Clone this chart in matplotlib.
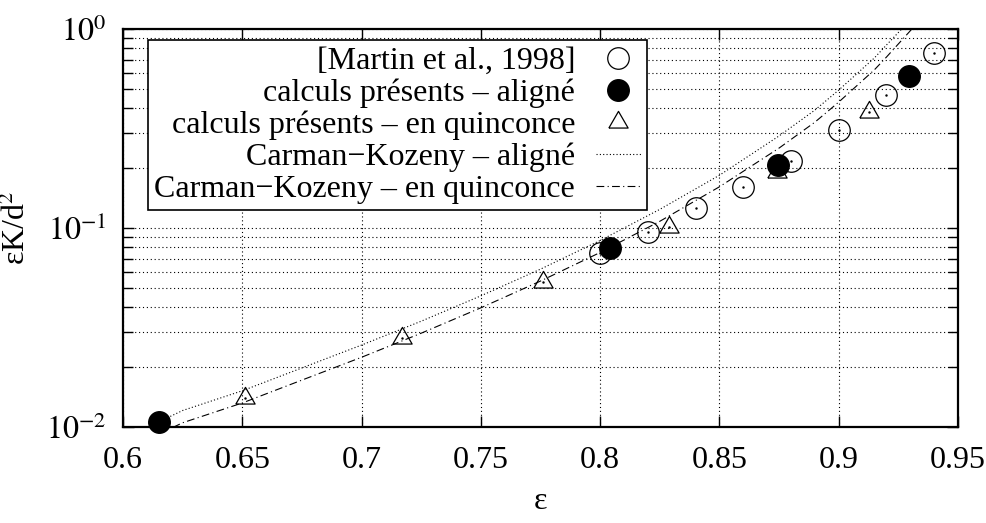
import numpy as np
import matplotlib.pyplot as plt
from matplotlib.ticker import LogLocator, NullFormatter, FixedLocator

plt.rcParams['font.family'] = ['Liberation Serif', 'DejaVu Serif']
plt.rcParams['mathtext.fontset'] = 'stix'

# Martin et al., 1998
eps_martin = [0.80, 0.82, 0.84, 0.86, 0.88, 0.90, 0.92, 0.94]
k_martin = [0.0749, 0.0955, 0.126, 0.161, 0.217, 0.311, 0.466, 0.757]

# present computations - aligned
eps_align = [0.615, 0.804, 0.8745, 0.9294]
k_align = [0.0106, 0.0793, 0.207, 0.580]

# present computations - staggered
eps_stag = [0.651, 0.717, 0.776, 0.8288, 0.874, 0.9127]
k_stag = [0.0140, 0.0280, 0.0535, 0.101, 0.191, 0.383]

# Carman-Kozeny curves
eps_ck_align = [0.600, 0.615, 0.625, 0.650, 0.675, 0.700, 0.725, 0.750, 0.775, 0.800,
                0.825, 0.850, 0.875, 0.890, 0.900, 0.915, 0.920, 0.930]
k_ck_align = [0.0085, 0.0106, 0.0121, 0.0152, 0.0198, 0.0258, 0.0340, 0.0456, 0.0621,
              0.0865, 0.124, 0.184, 0.290, 0.391, 0.493, 0.716, 0.830, 1.11]
eps_ck_stag = [0.615, 0.625, 0.650, 0.675, 0.700, 0.725, 0.750, 0.775, 0.800, 0.825,
               0.850, 0.875, 0.890, 0.900, 0.915, 0.920, 0.935]
k_ck_stag = [0.0092, 0.0105, 0.0132, 0.0172, 0.0224, 0.0296, 0.0397, 0.0541, 0.0753,
             0.108, 0.161, 0.252, 0.340, 0.429, 0.624, 0.722, 1.14]

fig = plt.figure(figsize=(9.87, 5.23), dpi=100)
ax = fig.add_axes([0.1246, 0.1836, 0.846, 0.761])

tri = [(-1, -0.577), (1, -0.577), (0, 1.155), (-1, -0.577)]

ax.plot(eps_martin, k_martin, 'o', mfc='none', mec='k', ms=15.5, mew=0.9,
        clip_on=False, label='[Martin et al., 1998]')
ax.plot(eps_martin, k_martin, '.', color='k', ms=1.5, clip_on=False)
ax.plot(eps_align, k_align, 'o', mfc='k', mec='k', ms=15.5, clip_on=False,
        label='calculs présents – aligné')
ax.plot(eps_stag, k_stag, ls='none', marker=tri, mfc='none', mec='k', ms=16, mew=0.9,
        clip_on=False, label='calculs présents – en quinconce')
ax.plot(eps_stag, k_stag, '.', color='k', ms=1.5, clip_on=False)
ax.plot(eps_ck_align, k_ck_align, color='k', lw=0.8, ls=(0, (1, 2)),
        label='Carman−Kozeny – aligné')
ax.plot(eps_ck_stag, k_ck_stag, color='k', lw=0.8, ls=(0, (7, 3, 1, 3)),
        label='Carman−Kozeny – en quinconce')

ax.set_yscale('log')
ax.set_xlim(0.6, 0.95)
ax.set_ylim(0.01, 1)
ax.xaxis.set_major_locator(FixedLocator([0.6, 0.65, 0.7, 0.75, 0.8, 0.85, 0.9, 0.95]))
ax.set_xticklabels(['0.6', '0.65', '0.7', '0.75', '0.8', '0.85', '0.9', '0.95'])
ax.yaxis.set_major_locator(FixedLocator([0.01, 0.1, 1]))
ax.set_yticklabels([r'$10^{-2}$', r'$10^{-1}$', r'$10^{0}$'])
ax.yaxis.set_minor_locator(LogLocator(base=10, subs=np.arange(2, 10)))
ax.yaxis.set_minor_formatter(NullFormatter())

ax.tick_params(which='both', direction='in', top=True, right=True, labelsize=23, width=1)
ax.tick_params(axis='x', which='major', length=8, pad=14)
ax.tick_params(axis='y', which='major', length=8, pad=12)
ax.tick_params(axis='y', which='minor', length=7)
for s in ax.spines.values():
    s.set_linewidth(1.6)

ax.grid(True, which='major', axis='x', color='k', lw=0.8, ls=(0, (1, 2.5)))
ax.grid(True, which='both', axis='y', color='k', lw=0.8, ls=(0, (1, 2.5)))

ax.set_xlabel('ε', fontsize=23, labelpad=8)
ax.set_ylabel('εK/d$^2$', fontsize=23, labelpad=10)

leg = ax.legend(loc='upper left', bbox_to_anchor=(0.03, 0.972), borderaxespad=0,
                markerfirst=False, fontsize=23, fancybox=False, framealpha=1,
                edgecolor='k', handlelength=1.4, labelspacing=0.08, borderpad=0.2,
                handletextpad=0.65)
leg.get_frame().set_linewidth(1.2)

fig.savefig('out.png', dpi=100)
